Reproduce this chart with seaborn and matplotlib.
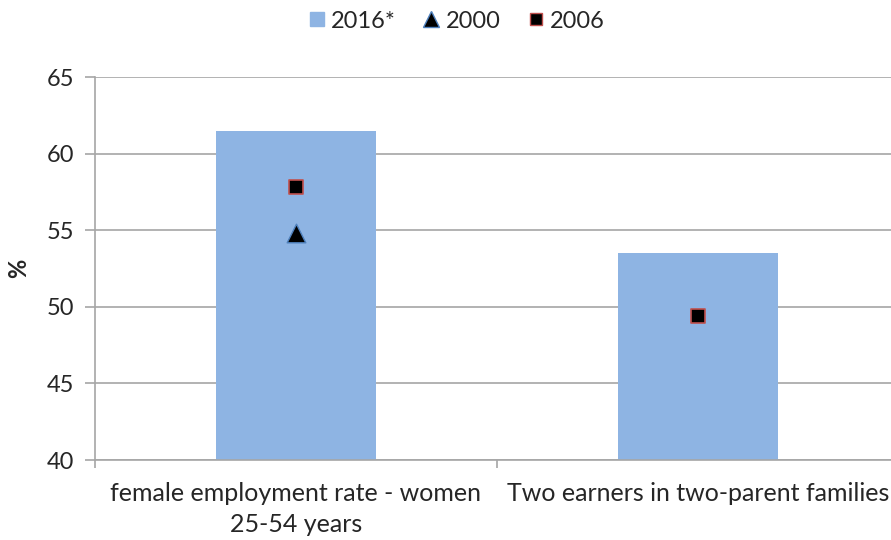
import matplotlib
matplotlib.use("Agg")
import matplotlib.pyplot as plt
import seaborn as sns
import numpy as np
import pandas as pd
from matplotlib.lines import Line2D

categories = ["female employment rate - women\n25-54 years", "Two earners in two-parent families"]
values_2016 = [61.5, 53.5]
values_2000 = [54.8, np.nan]
values_2006 = [57.8, 49.4]
y_ticks = [40, 45, 50, 55, 60, 65]

sns.set_theme(style="white")
plt.rcParams['font.family'] = ['Lato', 'DejaVu Sans']

FS = 17

fig = plt.figure(figsize=(8.91, 5.40), dpi=100)
ax = fig.add_axes([95/891, 1-460/540, 804/891, (460-77)/540])

df = pd.DataFrame({"cat": categories, "v": values_2016})
sns.barplot(data=df, x="cat", y="v", color="#8EB4E3", saturation=1, width=0.4, ax=ax,
            zorder=2, linewidth=0, edgecolor="none")

xpos = np.arange(len(categories))
ax.scatter(xpos, values_2000, marker="^", s=180, color="black", edgecolor="#4F81BD", linewidth=1, zorder=4)
ax.scatter(xpos, values_2006, marker="s", s=105, color="black", edgecolor="#C0504D", linewidth=1.2, zorder=4)

ax.set_xlim(-0.5, len(categories) - 0.5)
ax.set_ylim(40, 65)
ax.set_yticks(y_ticks)
ax.set_yticklabels([str(t) for t in y_ticks], fontsize=FS)
ax.yaxis.grid(True, color="#a6a6a6", linewidth=1.2, zorder=0)
ax.set_axisbelow(True)
ax.tick_params(axis="y", which="major", length=7, width=1.2, color="#a6a6a6", left=True, pad=8)

ax.set_xticks(xpos)
ax.set_xticklabels(categories, fontsize=18, linespacing=1.4)
ax.set_xticks([-0.5, 0.5, 1.5], minor=True)
ax.tick_params(axis="x", which="major", length=0, pad=16)
ax.tick_params(axis="x", which="minor", length=6, width=1.2, color="#a6a6a6", bottom=True)

ax.set_xlabel("")
ax.set_ylabel("%", fontsize=FS, fontweight="bold", labelpad=12)

for s in ["top", "right"]:
    ax.spines[s].set_visible(False)
for s in ["left", "bottom"]:
    ax.spines[s].set_color("#a6a6a6")
    ax.spines[s].set_linewidth(1.2)

handles = [
    Line2D([], [], marker="s", linestyle="", markersize=10, color="#8EB4E3", label="2016*"),
    Line2D([], [], marker="^", linestyle="", markersize=11, markerfacecolor="black", markeredgecolor="#4F81BD", label="2000"),
    Line2D([], [], marker="s", linestyle="", markersize=9, markerfacecolor="black", markeredgecolor="#C0504D", label="2006"),
]
fig.legend(handles=handles, loc="center", bbox_to_anchor=(455/891, 1-21/540), ncol=3, frameon=False,
           fontsize=FS, handletextpad=0.1, columnspacing=1.0, handlelength=1.0)

fig.savefig("out.png", dpi=100)
